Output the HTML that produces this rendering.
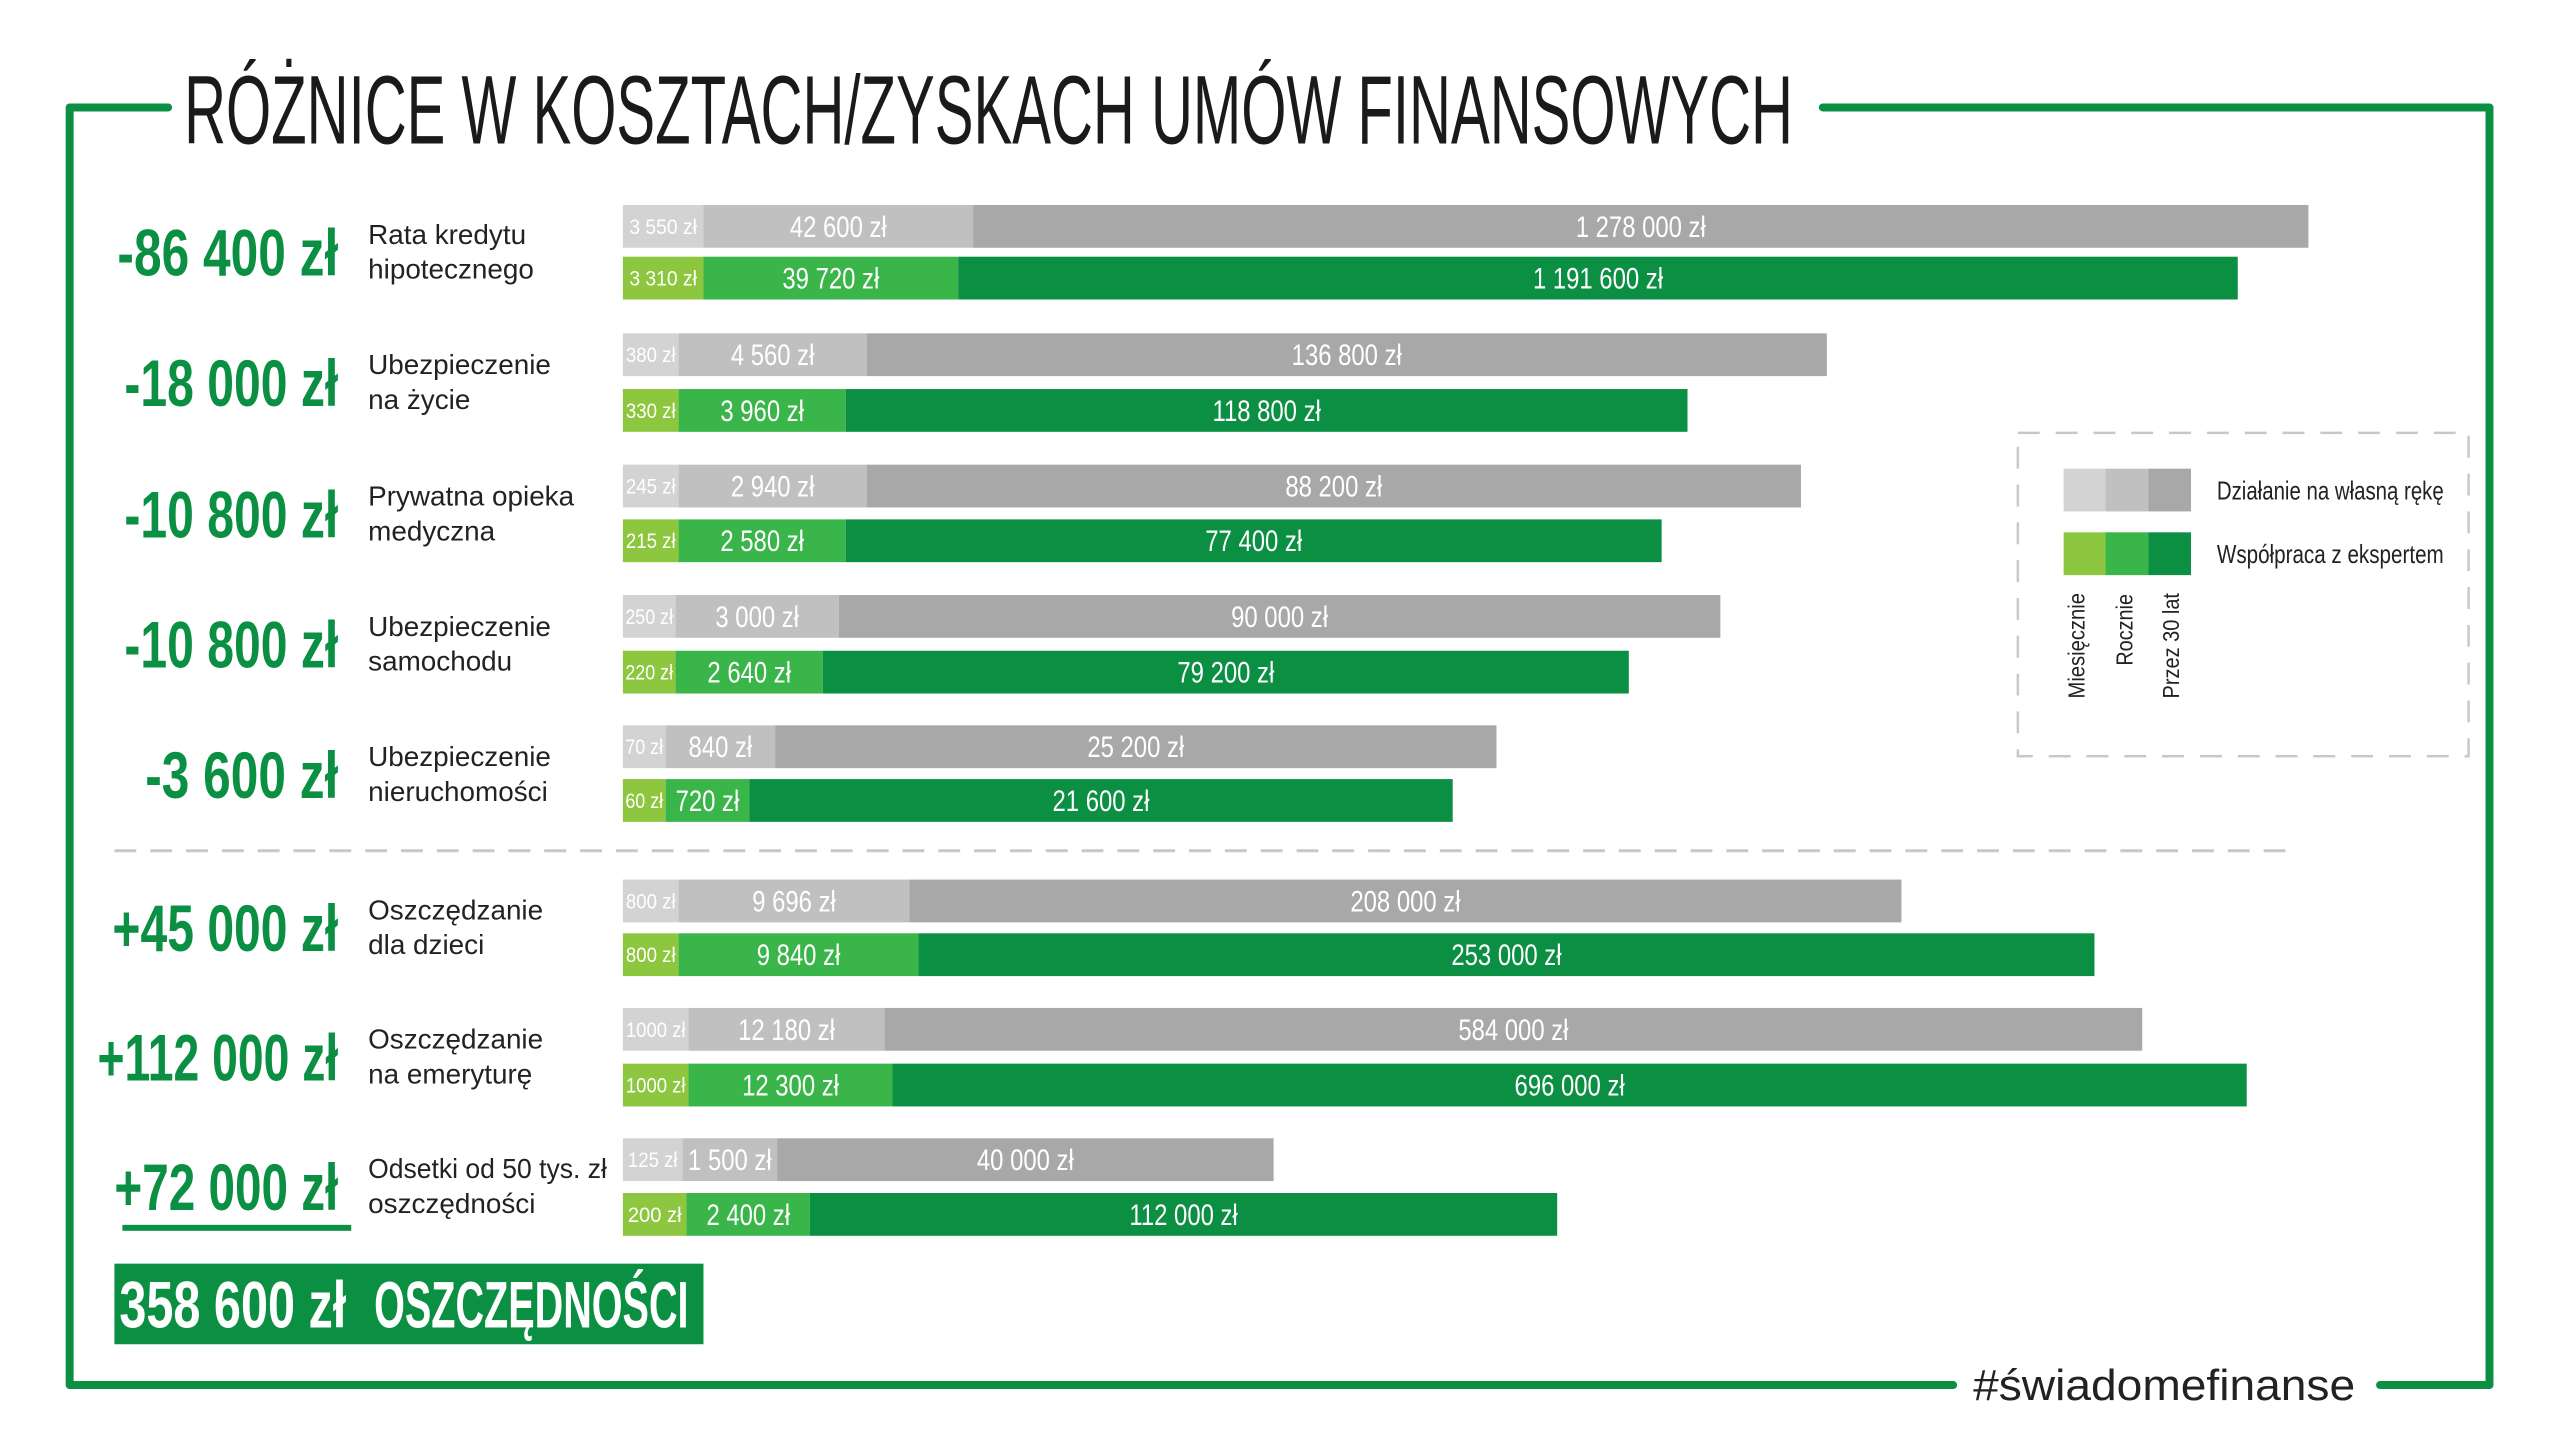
<!DOCTYPE html>
<html><head><meta charset="utf-8"><style>
html,body{margin:0;padding:0;background:#fff;}
svg{display:block;}
.t{font-family:"Liberation Sans",sans-serif;}
.b{font-size:30px;fill:#fff;text-anchor:middle;}
.s{font-size:21px;fill:#fff;text-anchor:middle;}
</style></head><body>
<svg width="2560" height="1455" viewBox="0 0 2560 1455" xmlns="http://www.w3.org/2000/svg" class="t">
<rect width="2560" height="1455" fill="#fff"/>
<g transform="scale(0.995)">
<g stroke="#0b8f43" stroke-width="8" fill="none" stroke-linecap="round" stroke-linejoin="round">
<polyline points="169,108 70,108 70,1392 1963,1392"/>
<polyline points="1832,108 2502,108 2502,1392 2392,1392"/>
</g>
<text x="185" y="144" font-size="98" fill="#1a1a1a" textLength="1617" lengthAdjust="spacingAndGlyphs">RÓŻNICE W KOSZTACH/ZYSKACH UMÓW FINANSOWYCH</text>
<text x="1983" y="1407" font-size="44" fill="#222" textLength="384" lengthAdjust="spacingAndGlyphs">#świadomefinanse</text>

<line x1="115" y1="855" x2="2306" y2="855" stroke="#c8c8c8" stroke-width="3" stroke-dasharray="22,14"/>

<rect x="2028" y="435" width="453" height="325" fill="none" stroke="#c8c8c8" stroke-width="2.5" stroke-dasharray="22,16"/>
<rect x="2074" y="471" width="42" height="43" fill="#d3d3d3"/><rect x="2116" y="471" width="43" height="43" fill="#c0c0c0"/><rect x="2159" y="471" width="43" height="43" fill="#a8a8a9"/>
<rect x="2074" y="535" width="42" height="43" fill="#8dc63f"/><rect x="2116" y="535" width="43" height="43" fill="#39b54a"/><rect x="2159" y="535" width="43" height="43" fill="#0b8f43"/>
<text x="2228" y="502" font-size="26" fill="#222" textLength="228" lengthAdjust="spacingAndGlyphs">Działanie na własną rękę</text>
<text x="2228" y="566" font-size="26" fill="#222" textLength="228" lengthAdjust="spacingAndGlyphs">Współpraca z ekspertem</text>
<g font-size="23" fill="#222">
<text transform="translate(2095,702) rotate(-90)" textLength="106" lengthAdjust="spacingAndGlyphs">Miesięcznie</text>
<text transform="translate(2143,669) rotate(-90)" textLength="72" lengthAdjust="spacingAndGlyphs">Rocznie</text>
<text transform="translate(2190,702) rotate(-90)" textLength="106" lengthAdjust="spacingAndGlyphs">Przez 30 lat</text>
</g>

<rect x="123" y="1231" width="230" height="6" fill="#0b8f43"/>
<rect x="115" y="1270" width="592" height="81" fill="#0b8f43"/>
<text x="120" y="1334" font-size="66" font-weight="bold" fill="#fff" textLength="228" lengthAdjust="spacingAndGlyphs">358 600 zł</text>
<text x="376" y="1334" font-size="66" font-weight="bold" fill="#fff" textLength="316" lengthAdjust="spacingAndGlyphs">OSZCZĘDNOŚCI</text>

<g font-size="66" font-weight="bold" fill="#0b8f43">
<text x="118" y="277" textLength="222" lengthAdjust="spacingAndGlyphs">-86 400 zł</text>
<text x="125" y="408" textLength="215" lengthAdjust="spacingAndGlyphs">-18 000 zł</text>
<text x="125" y="540" textLength="215" lengthAdjust="spacingAndGlyphs">-10 800 zł</text>
<text x="125" y="671" textLength="215" lengthAdjust="spacingAndGlyphs">-10 800 zł</text>
<text x="146" y="802" textLength="194" lengthAdjust="spacingAndGlyphs">-3 600 zł</text>
<text x="113" y="956" textLength="227" lengthAdjust="spacingAndGlyphs">+45 000 zł</text>
<text x="98" y="1086" textLength="242" lengthAdjust="spacingAndGlyphs">+112 000 zł</text>
<text x="115" y="1216" textLength="225" lengthAdjust="spacingAndGlyphs">+72 000 zł</text>
</g>

<g font-size="28" fill="#222">
<text x="370" y="245">Rata kredytu</text><text x="370" y="280">hipotecznego</text>
<text x="370" y="376">Ubezpieczenie</text><text x="370" y="411">na życie</text>
<text x="370" y="508">Prywatna opieka</text><text x="370" y="543">medyczna</text>
<text x="370" y="639">Ubezpieczenie</text><text x="370" y="674">samochodu</text>
<text x="370" y="770">Ubezpieczenie</text><text x="370" y="805">nieruchomości</text>
<text x="370" y="924">Oszczędzanie</text><text x="370" y="959">dla dzieci</text>
<text x="370" y="1054">Oszczędzanie</text><text x="370" y="1089">na emeryturę</text>
<text x="370" y="1184" textLength="240" lengthAdjust="spacingAndGlyphs">Odsetki od 50 tys. zł</text><text x="370" y="1219">oszczędności</text>
</g>

<g transform="translate(-2,-1)">
<!-- Row 1 -->
<rect x="628" y="207" width="81" height="43" fill="#d3d3d3"/><rect x="709" y="207" width="271" height="43" fill="#c0c0c0"/><rect x="980" y="207" width="1342" height="43" fill="#a8a8a9"/>
<rect x="628" y="259" width="81" height="43" fill="#8dc63f"/><rect x="709" y="259" width="256" height="43" fill="#39b54a"/><rect x="965" y="259" width="1286" height="43" fill="#0b8f43"/>
<text class="s" x="668.5" y="236" textLength="68" lengthAdjust="spacingAndGlyphs">3 550 zł</text>
<g transform="translate(844.5,239) scale(.8,1)"><text class="b">42 600 zł</text></g>
<g transform="translate(1651,239) scale(.8,1)"><text class="b">1 278 000 zł</text></g>
<text class="s" x="668.5" y="288" textLength="68" lengthAdjust="spacingAndGlyphs">3 310 zł</text>
<g transform="translate(837,291) scale(.8,1)"><text class="b">39 720 zł</text></g>
<g transform="translate(1608,291) scale(.8,1)"><text class="b">1 191 600 zł</text></g>

<!-- Row 2 -->
<rect x="628" y="336" width="56" height="43" fill="#d3d3d3"/><rect x="684" y="336" width="189" height="43" fill="#c0c0c0"/><rect x="873" y="336" width="965" height="43" fill="#a8a8a9"/>
<rect x="628" y="392" width="56" height="43" fill="#8dc63f"/><rect x="684" y="392" width="168" height="43" fill="#39b54a"/><rect x="852" y="392" width="846" height="43" fill="#0b8f43"/>
<text class="s" x="656" y="365" textLength="50" lengthAdjust="spacingAndGlyphs">380 zł</text>
<g transform="translate(778.5,368) scale(.8,1)"><text class="b">4 560 zł</text></g>
<g transform="translate(1355.5,368) scale(.8,1)"><text class="b">136 800 zł</text></g>
<text class="s" x="656" y="421" textLength="50" lengthAdjust="spacingAndGlyphs">330 zł</text>
<g transform="translate(768,424) scale(.8,1)"><text class="b">3 960 zł</text></g>
<g transform="translate(1275,424) scale(.8,1)"><text class="b">118 800 zł</text></g>

<!-- Row 3 -->
<rect x="628" y="468" width="56" height="43" fill="#d3d3d3"/><rect x="684" y="468" width="189" height="43" fill="#c0c0c0"/><rect x="873" y="468" width="939" height="43" fill="#a8a8a9"/>
<rect x="628" y="523" width="56" height="43" fill="#8dc63f"/><rect x="684" y="523" width="168" height="43" fill="#39b54a"/><rect x="852" y="523" width="820" height="43" fill="#0b8f43"/>
<text class="s" x="656" y="497" textLength="50" lengthAdjust="spacingAndGlyphs">245 zł</text>
<g transform="translate(778.5,500) scale(.8,1)"><text class="b">2 940 zł</text></g>
<g transform="translate(1342.5,500) scale(.8,1)"><text class="b">88 200 zł</text></g>
<text class="s" x="656" y="552" textLength="50" lengthAdjust="spacingAndGlyphs">215 zł</text>
<g transform="translate(768,555) scale(.8,1)"><text class="b">2 580 zł</text></g>
<g transform="translate(1262,555) scale(.8,1)"><text class="b">77 400 zł</text></g>

<!-- Row 4 -->
<rect x="628" y="599" width="53" height="43" fill="#d3d3d3"/><rect x="681" y="599" width="164" height="43" fill="#c0c0c0"/><rect x="845" y="599" width="886" height="43" fill="#a8a8a9"/>
<rect x="628" y="655" width="53" height="43" fill="#8dc63f"/><rect x="681" y="655" width="148" height="43" fill="#39b54a"/><rect x="829" y="655" width="810" height="43" fill="#0b8f43"/>
<text class="s" x="654.5" y="628" textLength="48" lengthAdjust="spacingAndGlyphs">250 zł</text>
<g transform="translate(763,631) scale(.8,1)"><text class="b">3 000 zł</text></g>
<g transform="translate(1288,631) scale(.8,1)"><text class="b">90 000 zł</text></g>
<text class="s" x="654.5" y="684" textLength="48" lengthAdjust="spacingAndGlyphs">220 zł</text>
<g transform="translate(755,687) scale(.8,1)"><text class="b">2 640 zł</text></g>
<g transform="translate(1234,687) scale(.8,1)"><text class="b">79 200 zł</text></g>

<!-- Row 5 -->
<rect x="628" y="730" width="43" height="43" fill="#d3d3d3"/><rect x="671" y="730" width="110" height="43" fill="#c0c0c0"/><rect x="781" y="730" width="725" height="43" fill="#a8a8a9"/>
<rect x="628" y="784" width="43" height="43" fill="#8dc63f"/><rect x="671" y="784" width="84" height="43" fill="#39b54a"/><rect x="755" y="784" width="707" height="43" fill="#0b8f43"/>
<text class="s" x="649.5" y="759" textLength="38" lengthAdjust="spacingAndGlyphs">70 zł</text>
<g transform="translate(726,762) scale(.8,1)"><text class="b">840 zł</text></g>
<g transform="translate(1143.5,762) scale(.8,1)"><text class="b">25 200 zł</text></g>
<text class="s" x="649.5" y="813" textLength="38" lengthAdjust="spacingAndGlyphs">60 zł</text>
<g transform="translate(713,816) scale(.8,1)"><text class="b">720 zł</text></g>
<g transform="translate(1108.5,816) scale(.8,1)"><text class="b">21 600 zł</text></g>

<!-- Row 6 -->
<rect x="628" y="885" width="56" height="43" fill="#d3d3d3"/><rect x="684" y="885" width="232" height="43" fill="#c0c0c0"/><rect x="916" y="885" width="997" height="43" fill="#a8a8a9"/>
<rect x="628" y="939" width="56" height="43" fill="#8dc63f"/><rect x="684" y="939" width="241" height="43" fill="#39b54a"/><rect x="925" y="939" width="1182" height="43" fill="#0b8f43"/>
<text class="s" x="656" y="914" textLength="50" lengthAdjust="spacingAndGlyphs">800 zł</text>
<g transform="translate(800,917) scale(.8,1)"><text class="b">9 696 zł</text></g>
<g transform="translate(1414.5,917) scale(.8,1)"><text class="b">208 000 zł</text></g>
<text class="s" x="656" y="968" textLength="50" lengthAdjust="spacingAndGlyphs">800 zł</text>
<g transform="translate(804.5,971) scale(.8,1)"><text class="b">9 840 zł</text></g>
<g transform="translate(1516,971) scale(.8,1)"><text class="b">253 000 zł</text></g>

<!-- Row 7 -->
<rect x="628" y="1014" width="66" height="43" fill="#d3d3d3"/><rect x="694" y="1014" width="197" height="43" fill="#c0c0c0"/><rect x="891" y="1014" width="1264" height="43" fill="#a8a8a9"/>
<rect x="628" y="1070" width="66" height="43" fill="#8dc63f"/><rect x="694" y="1070" width="205" height="43" fill="#39b54a"/><rect x="899" y="1070" width="1361" height="43" fill="#0b8f43"/>
<text class="s" x="661" y="1043" textLength="60" lengthAdjust="spacingAndGlyphs">1000 zł</text>
<g transform="translate(792.5,1046) scale(.8,1)"><text class="b">12 180 zł</text></g>
<g transform="translate(1523,1046) scale(.8,1)"><text class="b">584 000 zł</text></g>
<text class="s" x="661" y="1099" textLength="60" lengthAdjust="spacingAndGlyphs">1000 zł</text>
<g transform="translate(796.5,1102) scale(.8,1)"><text class="b">12 300 zł</text></g>
<g transform="translate(1579.5,1102) scale(.8,1)"><text class="b">696 000 zł</text></g>

<!-- Row 8 -->
<rect x="628" y="1145" width="60" height="43" fill="#d3d3d3"/><rect x="688" y="1145" width="95" height="43" fill="#c0c0c0"/><rect x="783" y="1145" width="499" height="43" fill="#a8a8a9"/>
<rect x="628" y="1200" width="64" height="43" fill="#8dc63f"/><rect x="692" y="1200" width="124" height="43" fill="#39b54a"/><rect x="816" y="1200" width="751" height="43" fill="#0b8f43"/>
<text class="s" x="658" y="1174" textLength="50" lengthAdjust="spacingAndGlyphs">125 zł</text>
<g transform="translate(735.5,1177) scale(.8,1)"><text class="b">1 500 zł</text></g>
<g transform="translate(1032.5,1177) scale(.8,1)"><text class="b">40 000 zł</text></g>
<text class="s" x="660" y="1229" textLength="54" lengthAdjust="spacingAndGlyphs">200 zł</text>
<g transform="translate(754,1232) scale(.8,1)"><text class="b">2 400 zł</text></g>
<g transform="translate(1191.5,1232) scale(.8,1)"><text class="b">112 000 zł</text></g>
</g>
</g>
</svg>
</body></html>
